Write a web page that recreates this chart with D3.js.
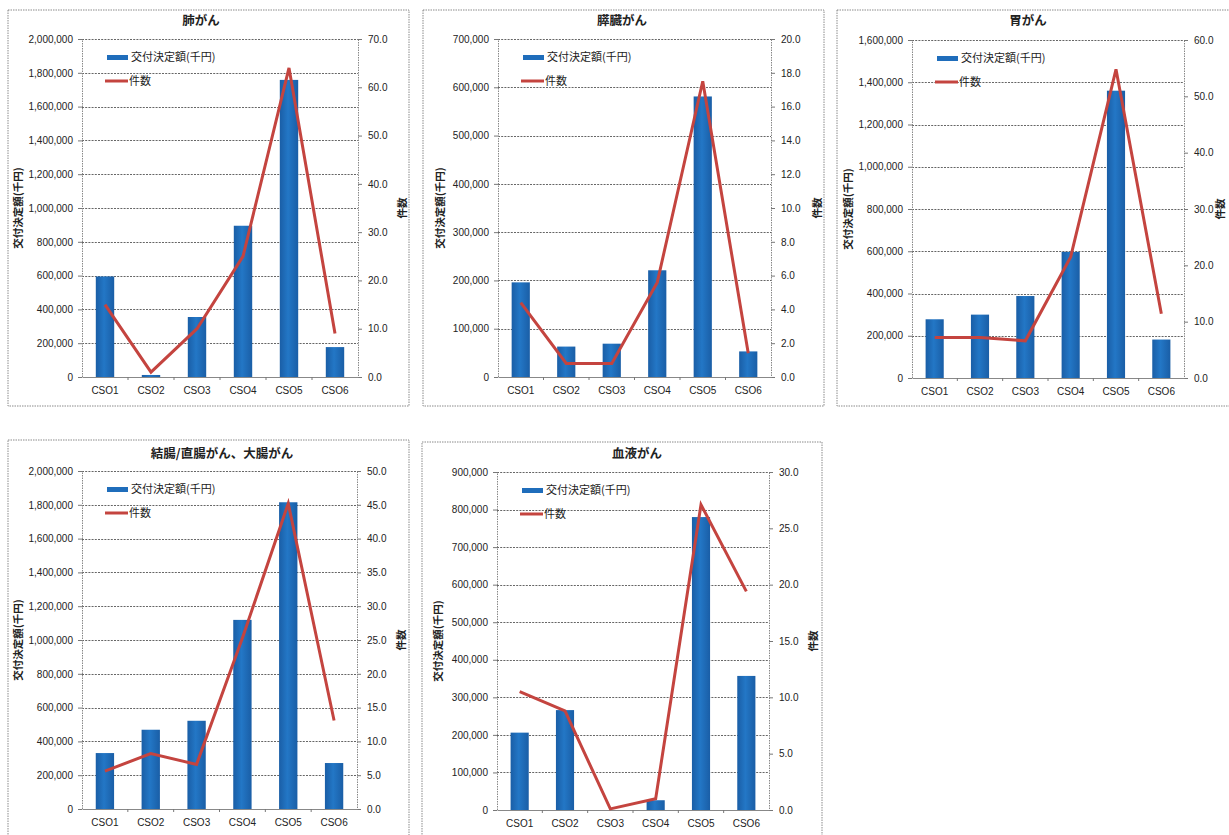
<!DOCTYPE html>
<html><head><meta charset="utf-8">
<script src="https://cdn.jsdelivr.net/npm/d3@7"></script>
<style>
body{margin:0;background:#fff;}
text{font-family:"Liberation Sans",Arial,"Noto Sans CJK JP",sans-serif;fill:#222;}
.jp{font-family:"Noto Sans CJK JP","Noto Sans",sans-serif;}
</style>
</head><body><svg id="c" width="1229" height="835"></svg>
<script>
// ---------- data ----------
const categories = ["CSO1","CSO2","CSO3","CSO4","CSO5","CSO6"];
const panelTitles = ["肺がん","膵臓がん","胃がん","結腸/直腸がん、大腸がん","血液がん"];
const amountLung       = [595000, 12000, 355000, 895000, 1758000, 177000];
const countLung        = [15, 1, 10, 25, 64, 9];
const amountPancreas   = [196000, 63000, 69000, 221000, 581000, 53000];
const countPancreas    = [4.4, 0.8, 0.8, 5.6, 17.5, 1.4];
const amountStomach    = [278000, 300000, 388000, 597000, 1360000, 182000];
const countStomach     = [7.2, 7.2, 6.6, 21.5, 54.8, 11.4];
const amountColorectal = [331000, 469000, 522000, 1119000, 1815000, 272000];
const countColorectal  = [5.6, 8.2, 6.6, 25.3, 45.2, 13.1];
const amountBlood      = [206000, 266000, 0, 26000, 780000, 357000];
const countBlood       = [10.5, 8.8, 0.1, 1.0, 27.1, 19.4];
const leftTicksLung       = [0,200000,400000,600000,800000,1000000,1200000,1400000,1600000,1800000,2000000];
const leftTicksPancreas   = [0,100000,200000,300000,400000,500000,600000,700000];
const leftTicksStomach    = [0,200000,400000,600000,800000,1000000,1200000,1400000,1600000];
const leftTicksColorectal = [0,200000,400000,600000,800000,1000000,1200000,1400000,1600000,1800000,2000000];
const leftTicksBlood      = [0,100000,200000,300000,400000,500000,600000,700000,800000,900000];
const rightTicksLung       = [0,10,20,30,40,50,60,70];
const rightTicksPancreas   = [0,2,4,6,8,10,12,14,16,18,20];
const rightTicksStomach    = [0,10,20,30,40,50,60];
const rightTicksColorectal = [0,5,10,15,20,25,30,35,40,45,50];
const rightTicksBlood      = [0,5,10,15,20,25,30];
const legendLabels = ["交付決定額(千円)", "件数"];
const leftAxisTitle = "交付決定額(千円)";
const rightAxisTitle = "件数";

const amounts = [amountLung, amountPancreas, amountStomach, amountColorectal, amountBlood];
const counts = [countLung, countPancreas, countStomach, countColorectal, countBlood];
const leftTicks = [leftTicksLung, leftTicksPancreas, leftTicksStomach, leftTicksColorectal, leftTicksBlood];
const rightTicks = [rightTicksLung, rightTicksPancreas, rightTicksStomach, rightTicksColorectal, rightTicksBlood];

// ---------- layout ----------
const layout = [
  {frame:[8,10,401,396],  plot:[82,358,39,377],  titleX:201, titleY:25, ytx:18, rtx:406},
  {frame:[423,10,401,396],plot:[498,771,39,377], titleX:622, titleY:25, ytx:440, rtx:821},
  {frame:[837,10,401,396],plot:[912,1184,40,378],titleX:1028,titleY:25, ytx:848, rtx:1224},
  {frame:[8,440,401,420], plot:[82,357,471,809], titleX:222, titleY:458, ytx:18, rtx:405},
  {frame:[422,442,400,420],plot:[497,769,472,810],titleX:637, titleY:458, ytx:438, rtx:817}
];

const svg = d3.select("#c");
const defs = svg.append("defs");
const grad = defs.append("linearGradient").attr("id","barg").attr("x1","0").attr("x2","1").attr("y1","0").attr("y2","0");
grad.append("stop").attr("offset","0").attr("stop-color","#1a5ea6");
grad.append("stop").attr("offset","0.45").attr("stop-color","#2377c6");
grad.append("stop").attr("offset","1").attr("stop-color","#1a5ea6");

const fmt = d3.format(",");
const fmtR = d3.format(".1f");
const barColor = "#1f6dbb", lineColor = "#c4443f";

layout.forEach((L, i) => {
  const g = svg.append("g");
  const [fx, fy, fw, fh] = L.frame;
  const [pl, pr, pt, pb] = L.plot;
  g.append("rect").attr("x", fx).attr("y", fy).attr("width", fw).attr("height", fh)
    .attr("fill", "#fff").attr("stroke", "#8a8a8a").attr("stroke-width", 1).attr("stroke-dasharray", "1.5,1");

  const lt = leftTicks[i], rt = rightTicks[i];
  const x = d3.scaleBand().domain(categories).range([pl, pr]).paddingInner(0.6).paddingOuter(0.3);
  const xb = d3.scaleBand().domain(categories).range([pl, pr]);
  const y = d3.scaleLinear().domain([0, lt[lt.length-1]]).range([pb, pt]);
  const y2 = d3.scaleLinear().domain([0, rt[rt.length-1]]).range([pb, pt]);

  // gridlines
  g.append("g").selectAll("line").data(lt.slice(1)).join("line")
    .attr("x1", pl).attr("x2", pr).attr("y1", d => Math.round(y(d))+0.5).attr("y2", d => Math.round(y(d))+0.5)
    .attr("stroke", "#555").attr("stroke-width", 0.9).attr("stroke-dasharray", "2,1.2");

  // bars
  g.append("g").selectAll("rect").data(amounts[i]).join("rect")
    .attr("x", (d, j) => x(categories[j])).attr("width", x.bandwidth())
    .attr("y", d => y(d)).attr("height", d => pb - y(d))
    .attr("fill", "url(#barg)");

  // left axis
  const la = g.append("g").attr("transform", `translate(${pl},0)`)
    .call(d3.axisLeft(y).tickValues(lt).tickFormat(fmt).tickSize(4).tickPadding(5));
  la.select(".domain").attr("stroke", "#888").attr("stroke-dasharray", "1.5,1");
  la.selectAll(".tick line").attr("stroke", "#777");
  la.selectAll("text").style("font-size", "10px").attr("fill", "#222").style("font-family", '"Liberation Sans",Arial,sans-serif');

  // right axis
  const ra = g.append("g").attr("transform", `translate(${pr},0)`)
    .call(d3.axisRight(y2).tickValues(rt).tickFormat(fmtR).tickSize(4).tickPadding(6));
  ra.select(".domain").attr("stroke", "#888").attr("stroke-dasharray", "1.5,1");
  ra.selectAll(".tick line").attr("stroke", "#777");
  ra.selectAll("text").style("font-size", "10px").attr("fill", "#222").style("font-family", '"Liberation Sans",Arial,sans-serif');

  // bottom axis
  const ba = g.append("g").attr("transform", `translate(0,${pb})`)
    .call(d3.axisBottom(xb).tickSize(0).tickPadding(10));
  ba.select(".domain").attr("stroke", "#888");
  ba.selectAll("text").style("font-size", "10px").attr("fill", "#222").style("font-family", '"Liberation Sans",Arial,sans-serif');
  g.append("g").selectAll("line").data(categories.slice(1)).join("line")
    .attr("x1", d => xb(d)).attr("x2", d => xb(d)).attr("y1", pb).attr("y2", pb + 3)
    .attr("stroke", "#777");

  // line
  const line = d3.line().x((d, j) => x(categories[j]) + x.bandwidth()/2).y(d => y2(d));
  g.append("path").datum(counts[i]).attr("d", line)
    .attr("fill", "none").attr("stroke", lineColor).attr("stroke-width", 3).attr("stroke-linejoin", "miter");

  // title
  g.append("text").attr("class", "jp").attr("x", L.titleX).attr("y", L.titleY).attr("text-anchor", "middle")
    .style("font-size", "12.5px").style("font-weight", "bold").text(panelTitles[i]);

  // axis titles
  g.append("text").attr("class", "jp").attr("transform", `translate(${L.ytx + 4},${(pt+pb)/2}) rotate(-90)`)
    .attr("text-anchor", "middle").style("font-size", "10.5px").style("font-weight", "bold").text(leftAxisTitle);
  g.append("text").attr("class", "jp").attr("transform", `translate(${L.rtx},${(pt+pb)/2}) rotate(-90)`)
    .attr("text-anchor", "middle").style("font-size", "10.5px").style("font-weight", "bold").text(rightAxisTitle);

  // legend
  g.append("rect").attr("x", pl + 25).attr("y", pt + 16).attr("width", 21).attr("height", 5).attr("fill", barColor);
  g.append("text").attr("class", "jp").attr("x", pl + 49).attr("y", pt + 22).style("font-size", "11px").text(legendLabels[0]);
  g.append("line").attr("x1", pl + 23).attr("x2", pl + 46).attr("y1", pt + 42).attr("y2", pt + 42)
    .attr("stroke", lineColor).attr("stroke-width", 3);
  g.append("text").attr("class", "jp").attr("x", pl + 47).attr("y", pt + 46).style("font-size", "11px").text(legendLabels[1]);
});
</script>
</body></html>
